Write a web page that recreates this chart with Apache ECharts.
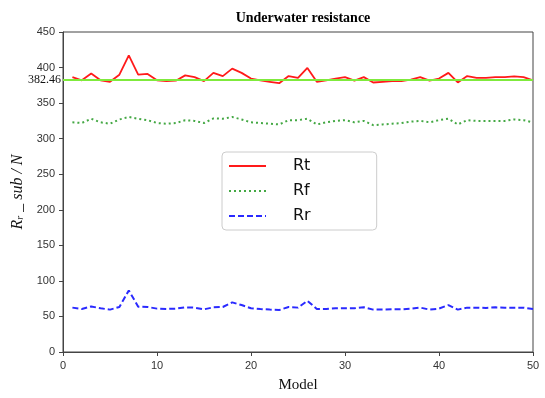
<!DOCTYPE html>
<html>
<head>
<meta charset="utf-8">
<script src="https://cdn.jsdelivr.net/npm/echarts@6/dist/echarts.min.js"></script>
<style>
  html, body { margin: 0; padding: 0; background: #fff; }
  #chart { width: 545px; height: 398px; }
</style>
</head>
<body>
<div id="chart"></div>
<script>
// model index 1..50
const models = Array.from({ length: 50 }, (_, i) => i + 1);

const rt = [386.5, 382, 391.5, 382, 380, 390, 417, 390, 391, 382,
            381, 381.5, 389, 386.5, 381, 392.5, 388, 398.5, 392.5, 384.5,
            382, 380, 378, 388, 385.5, 399.5, 380, 382, 384.5, 386.5,
            381.5, 386.5, 379, 380, 381, 381, 383, 386.5, 381.5, 384.5,
            392.5, 379, 388, 385.5, 385.5, 386.5, 386.5, 387.5, 386.5, 382];
const rf = [323, 322, 328, 323, 321, 327, 330.5, 328, 326, 322,
            321, 322, 326, 325, 322, 328.5, 328, 330.5, 327, 323,
            322, 321, 320, 326, 326, 328, 320, 323, 325, 326,
            323, 325, 319, 320, 321, 322, 324, 325, 323, 326,
            328, 320, 326, 325, 325, 325, 325, 327, 326, 323];
const rr = [62.4, 60.5, 64, 61.5, 59.6, 63.3, 86.6, 63.8, 63.3, 61,
            60.5, 61, 62.8, 62.4, 60, 62.8, 63.3, 69.8, 66, 61.5,
            60.5, 59.6, 59, 63.3, 62.4, 72, 60.5, 60.5, 61.5, 61.5,
            61.5, 62.8, 59.6, 59.6, 60, 60, 61, 62.4, 59.6, 61,
            66, 59.6, 62.4, 62.4, 62, 62.8, 62.4, 62.4, 62.4, 60.5];
const refValue = 382.46;

const pairs = arr => models.map((m, i) => [m, arr[i]]);

const chart = echarts.init(document.getElementById('chart'));

const tickFont = {
    color: '#333',
    fontFamily: 'Liberation Sans, Arial',
    fontSize: 11,
};

const option = {
    animation: false,
    title: {
        text: 'Underwater resistance',
        left: 298,
        textAlign: 'center',
        top: 6,
        textStyle: {
            fontFamily: 'Liberation Serif, Times New Roman',
            fontWeight: 'bold',
            fontSize: 14,
            color: '#000',
        }
    },
    legend: {
        orient: 'vertical',
        left: 222,
        top: 152,
        padding: [6, 66, 6, 6],
        itemGap: 9,
        itemWidth: 37,
        itemHeight: 16,
        borderColor: '#ccc',
        borderWidth: 1,
        borderRadius: 4,
        itemStyle: { opacity: 0 },
        data: ['Rt', 'Rf', 'Rr'],
        textStyle: {
            fontFamily: 'DejaVu Sans',
            fontSize: 16,
            color: '#111',
            padding: [0, 0, 0, 22],
        }
    },
    grid: {
        left: 63,
        right: 12,
        top: 32,
        bottom: 44,
        show: true,
        borderColor: '#444',
        borderWidth: 1,
    },
    xAxis: {
        type: 'value',
        min: 0,
        max: 50,
        interval: 10,
        name: 'Model',
        nameLocation: 'middle',
        nameGap: 26,
        nameTextStyle: {
            fontFamily: 'Liberation Serif, Times New Roman',
            fontSize: 15,
            color: '#111',
        },
        axisLine: { lineStyle: { color: '#444' } },
        axisTick: { inside: false, length: 4, lineStyle: { color: '#444' } },
        axisLabel: tickFont,
        splitLine: { show: false },
    },
    yAxis: {
        type: 'value',
        min: 0,
        max: 450,
        interval: 50,
        name: '{i|R}{s|r}{i| _ sub / N}',
        nameLocation: 'middle',
        nameGap: 34,
        nameTextStyle: {
            rich: {
                i: { fontFamily: 'Liberation Serif', fontStyle: 'italic', fontSize: 16, color: '#111' },
                s: { fontFamily: 'Liberation Serif', fontStyle: 'italic', fontSize: 10, color: '#111', verticalAlign: 'bottom', padding: [6, 0, 0, 0] },
            }
        },
        axisLine: { show: true, lineStyle: { color: '#444' } },
        axisTick: { show: true, inside: false, length: 4, lineStyle: { color: '#444' } },
        axisLabel: tickFont,
        splitLine: { show: false },
    },
    series: [
        {
            name: 'Rt',
            type: 'line',
            data: pairs(rt),
            symbol: 'none',
            color: '#ff1a1a',
            lineStyle: { width: 1.8, color: '#ff1a1a' },
            z: 3,
            markLine: {
                silent: true,
                symbol: 'none',
                lineStyle: { color: '#7fea3c', width: 2, type: 'solid' },
                label: {
                    position: 'start',
                    formatter: '382.46',
                    fontFamily: 'Liberation Serif, Times New Roman',
                    fontSize: 12,
                    color: '#111',
                    distance: 2,
                },
                data: [{ yAxis: refValue }]
            }
        },
        {
            name: 'Rf',
            type: 'line',
            data: pairs(rf),
            symbol: 'none',
            color: '#44a844',
            lineStyle: { width: 2, color: '#44a844', type: [2, 3] },
        },
        {
            name: 'Rr',
            type: 'line',
            data: pairs(rr),
            symbol: 'none',
            color: '#2a2aff',
            lineStyle: { width: 2, color: '#2a2aff', type: [6, 3] },
        }
    ]
};

chart.setOption(option);
</script>
</body>
</html>
